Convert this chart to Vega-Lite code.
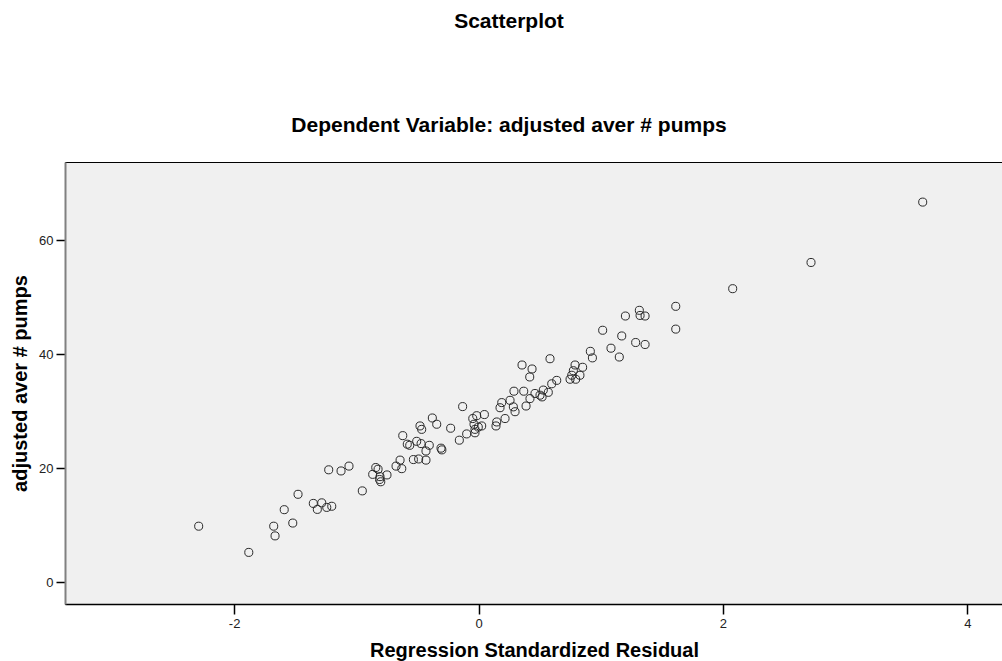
{
  "$schema": "https://vega.github.io/schema/vega-lite/v6.json",
  "width": 938,
  "height": 442,
  "autosize": {"type": "none"},
  "padding": {"left": 65, "top": 162, "right": -1, "bottom": 57},
  "background": "white",
  "title": {
    "text": "Scatterplot",
    "subtitle": "Dependent Variable: adjusted aver # pumps",
    "anchor": "middle",
    "frame": "group",
    "dx": -25,
    "offset": 26,
    "font": "Liberation Sans",
    "fontSize": 21,
    "fontWeight": "bold",
    "color": "#000000",
    "subtitleFont": "Liberation Sans",
    "subtitleFontSize": 21,
    "subtitleFontWeight": "bold",
    "subtitleColor": "#000000",
    "subtitlePadding": 83
  },
  "config": {
    "view": {"fill": "#f0f0f0", "stroke": "#000000", "strokeWidth": 1},
    "axis": {"grid": false}
  },
  "data": {
    "values": [
      {"resid": -2.29, "pumps": 9.8},
      {"resid": -1.88, "pumps": 5.2},
      {"resid": -1.676, "pumps": 9.8},
      {"resid": -1.665, "pumps": 8.1},
      {"resid": -1.59, "pumps": 12.7},
      {"resid": -1.52, "pumps": 10.35},
      {"resid": -1.477, "pumps": 15.4},
      {"resid": -1.352, "pumps": 13.8},
      {"resid": -1.319, "pumps": 12.75},
      {"resid": -1.283, "pumps": 13.9},
      {"resid": -1.242, "pumps": 13.1},
      {"resid": -1.201, "pumps": 13.3},
      {"resid": -1.226, "pumps": 19.7},
      {"resid": -1.125, "pumps": 19.5},
      {"resid": -1.06, "pumps": 20.35},
      {"resid": -0.951, "pumps": 16.0},
      {"resid": -0.841, "pumps": 20.1},
      {"resid": -0.822, "pumps": 19.8},
      {"resid": -0.866, "pumps": 18.9},
      {"resid": -0.806, "pumps": 18.5},
      {"resid": -0.8, "pumps": 17.6},
      {"resid": -0.749, "pumps": 18.8},
      {"resid": -0.81, "pumps": 18.0},
      {"resid": -0.642, "pumps": 21.4},
      {"resid": -0.675, "pumps": 20.35},
      {"resid": -0.628, "pumps": 19.9},
      {"resid": -0.62, "pumps": 25.7},
      {"resid": -0.583, "pumps": 24.2},
      {"resid": -0.563, "pumps": 24.0},
      {"resid": -0.506, "pumps": 24.7},
      {"resid": -0.47, "pumps": 24.3},
      {"resid": -0.479, "pumps": 27.4},
      {"resid": -0.465, "pumps": 26.8},
      {"resid": -0.403, "pumps": 24.0},
      {"resid": -0.43, "pumps": 23.0},
      {"resid": -0.533, "pumps": 21.5},
      {"resid": -0.49, "pumps": 21.6},
      {"resid": -0.43, "pumps": 21.4},
      {"resid": -0.378, "pumps": 28.8},
      {"resid": -0.342, "pumps": 27.7},
      {"resid": -0.307, "pumps": 23.5},
      {"resid": -0.3, "pumps": 23.2},
      {"resid": -0.228, "pumps": 27.0},
      {"resid": -0.157, "pumps": 24.9},
      {"resid": -0.13, "pumps": 30.8},
      {"resid": -0.097, "pumps": 26.0},
      {"resid": -0.047, "pumps": 28.7},
      {"resid": -0.015, "pumps": 29.2},
      {"resid": 0.048, "pumps": 29.4},
      {"resid": -0.037, "pumps": 27.7},
      {"resid": -0.002, "pumps": 27.2},
      {"resid": -0.029, "pumps": 26.8},
      {"resid": -0.029, "pumps": 26.2},
      {"resid": 0.026, "pumps": 27.4},
      {"resid": 0.143, "pumps": 27.4},
      {"resid": 0.149, "pumps": 28.1},
      {"resid": 0.217, "pumps": 28.7},
      {"resid": 0.176, "pumps": 30.6},
      {"resid": 0.19, "pumps": 31.5},
      {"resid": 0.258, "pumps": 31.9},
      {"resid": 0.285, "pumps": 30.75},
      {"resid": 0.299, "pumps": 29.9},
      {"resid": 0.29, "pumps": 33.5},
      {"resid": 0.37, "pumps": 33.5},
      {"resid": 0.389, "pumps": 30.9},
      {"resid": 0.421, "pumps": 32.2},
      {"resid": 0.462, "pumps": 33.1},
      {"resid": 0.503, "pumps": 32.8},
      {"resid": 0.52, "pumps": 32.5},
      {"resid": 0.53, "pumps": 33.7},
      {"resid": 0.571, "pumps": 33.3},
      {"resid": 0.599, "pumps": 34.8},
      {"resid": 0.64, "pumps": 35.4},
      {"resid": 0.356, "pumps": 38.1},
      {"resid": 0.438, "pumps": 37.4},
      {"resid": 0.419, "pumps": 36.0},
      {"resid": 0.585, "pumps": 39.2},
      {"resid": 0.749, "pumps": 35.6},
      {"resid": 0.795, "pumps": 35.6},
      {"resid": 0.763, "pumps": 36.3},
      {"resid": 0.83, "pumps": 36.3},
      {"resid": 0.776, "pumps": 37.1},
      {"resid": 0.79, "pumps": 38.1},
      {"resid": 0.852, "pumps": 37.7},
      {"resid": 0.915, "pumps": 40.5},
      {"resid": 0.932, "pumps": 39.35},
      {"resid": 1.016, "pumps": 44.2},
      {"resid": 1.084, "pumps": 41.05},
      {"resid": 1.152, "pumps": 39.5},
      {"resid": 1.172, "pumps": 43.2},
      {"resid": 1.202, "pumps": 46.7},
      {"resid": 1.286, "pumps": 42.05},
      {"resid": 1.316, "pumps": 47.7},
      {"resid": 1.322, "pumps": 46.8},
      {"resid": 1.363, "pumps": 46.7},
      {"resid": 1.363, "pumps": 41.7},
      {"resid": 1.614, "pumps": 48.4},
      {"resid": 1.614, "pumps": 44.4},
      {"resid": 2.08, "pumps": 51.5},
      {"resid": 2.721, "pumps": 56.1},
      {"resid": 3.635, "pumps": 66.7}
    ]
  },
  "mark": {"type": "point", "shape": "circle", "filled": false, "size": 65, "stroke": "#2a2a2a", "strokeWidth": 1, "opacity": 1},
  "encoding": {
    "x": {
      "field": "resid",
      "type": "quantitative",
      "scale": {"domain": [-3.384, 4.292], "nice": false, "zero": false},
      "axis": {
        "title": "Regression Standardized Residual",
        "values": [-2, 0, 2, 4],
        "labelExpr": "'' + datum.value",
        "domainColor": "#000000",
        "domainWidth": 1.5,
        "tickColor": "#000000",
        "tickSize": 10,
        "tickWidth": 1.5,
        "labelFont": "Liberation Sans",
        "labelFontSize": 13,
        "labelColor": "#222222",
        "labelPadding": 3,
        "titleFont": "Liberation Sans",
        "titleFontSize": 20,
        "titleFontWeight": "bold",
        "titleColor": "#000000",
        "titlePadding": 10
      }
    },
    "y": {
      "field": "pumps",
      "type": "quantitative",
      "scale": {"domain": [-3.86, 73.74], "nice": false, "zero": false},
      "axis": {
        "title": "adjusted aver # pumps",
        "values": [0, 20, 40, 60],
        "labelExpr": "'' + datum.value",
        "domainColor": "#808080",
        "domainWidth": 2,
        "tickColor": "#000000",
        "tickSize": 9,
        "tickWidth": 1.5,
        "labelFont": "Liberation Sans",
        "labelFontSize": 13,
        "labelColor": "#222222",
        "labelPadding": 3,
        "titleFont": "Liberation Sans",
        "titleFontSize": 20,
        "titleFontWeight": "bold",
        "titleColor": "#000000",
        "titlePadding": 8
      }
    }
  }
}
